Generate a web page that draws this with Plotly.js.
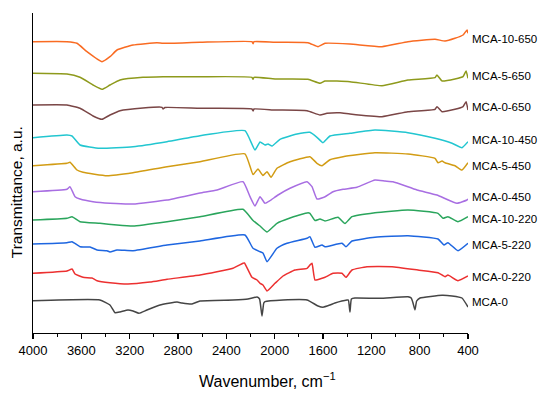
<!DOCTYPE html>
<html>
<head>
<meta charset="utf-8">
<script src="https://cdn.plot.ly/plotly-3.0.1.min.js"></script>
<style>html,body{margin:0;padding:0;background:#fff;}#chart{width:550px;height:393px;}</style>
</head>
<body>
<div id="chart"></div>
<script>
// Series names (top to bottom in the stack)
const names = ["MCA-10-650","MCA-5-650","MCA-0-650","MCA-10-450","MCA-5-450","MCA-0-450","MCA-10-220","MCA-5-220","MCA-0-220","MCA-0"];

// Wavenumbers (cm-1) and stacked transmittance values (arbitrary units, offset)
const wn_mca0 = [4000,3446,3363,3321,3280,3214,3172,3123,3057,2949,2808,2767,2684,2618,2345,2221,2146,2125,2105,2090,2080,1931,1732,1641,1600,1542,1501,1401,1390,1377,1365,1335,1128,897,870,855,839,825,797,615,532,450,400];
const y_mca0  = [32.3,33,28,20.3,21,23,22,19.7,23,28,31,30,29,32,33,34,36,34,17,30,31.3,33,33,27,25.7,28,30,33,33,21,34,35,34.7,36.3,35,30,23,32,35,37.7,37,35,26];

const wn_0_220 = [4000,3719,3677,3652,3586,3512,3470,3363,3214,3032,2891,2618,2345,2262,2250,2188,2146,2121,2097,2063,1997,1931,1832,1732,1708,1691,1666,1608,1583,1517,1443,1410,1360,1236,1029,814,648,590,566,483,400];
const y_0_220  = [59.7,62,64,59,55.7,55,52.3,50.3,49,51,53.7,58,64.7,69.7,70,55.7,53,49.7,48,42,49.7,57,63,64.7,68,69.7,53,54.7,55.7,59.7,59.7,55.7,63,66.3,66.3,63,60.3,56.3,58,52.3,57];

const wn_5_220 = [4000,3719,3677,3611,3528,3470,3388,3363,3305,3172,2891,2618,2246,2179,2121,2097,2063,1981,1898,1732,1708,1666,1608,1583,1443,1410,1360,1170,897,648,599,566,483,400];
const y_5_220  = [89,90.3,91.3,86.3,86,83,82.3,81,83,82.3,88,92,98,84.7,81.3,80,71.3,84.7,89.7,94.7,96.3,85.7,88,86.3,89.7,86.3,92,95.7,97.3,94,88,90.3,82.3,89.7];

const wn_10_220 = [4000,3719,3677,3611,3446,3305,3172,2891,2618,2262,2179,2121,2063,1981,1873,1724,1708,1666,1625,1583,1476,1418,1360,1170,897,648,607,566,483,400];
const y_10_220  = [113,114.7,116.3,111.3,109.7,108,107,111.3,116.3,123.7,112.5,107,101,109.7,115,120.3,119.7,112.5,114,112,115.7,109.5,116.3,120.3,123,119.7,114.7,116.3,111.3,116.3];

const wn_0_450 = [4000,3719,3694,3652,3611,3503,3363,3172,2891,2618,2477,2262,2204,2163,2121,2080,2039,1972,1873,1732,1691,1650,1583,1517,1434,1319,1170,1087,1021,822,657,491,408,400];
const y_0_450  = [141.3,143.7,146.3,136.3,134,131.3,129.7,129,133,140,143,151.3,136.3,127,136.3,129.7,132.3,138,144.7,151.3,146.3,134,136.3,141.3,143.7,145.7,153,152,151.3,143,138,129.7,133,134];

const wn_5_450 = [4000,3719,3694,3636,3586,3388,3172,2891,2618,2246,2179,2138,2097,2063,2030,1981,1873,1708,1650,1608,1542,1434,1170,897,673,648,615,590,508,450,400];
const y_5_450  = [167.3,169.7,170.7,163,160.7,157.3,160.3,166.3,171.3,179.2,158.5,164,157.5,161.3,155.7,164.7,171.3,176.3,169.7,167.3,173.3,176.3,180.3,179,174.7,170.3,172,170.3,167.3,163,170.3];

const wn_10_450 = [4000,3719,3677,3611,3446,3172,2891,2618,2246,2163,2121,2080,2055,2022,1956,1815,1708,1650,1600,1542,1377,1170,897,673,532,450,400];
const y_10_450  = [195.3,198,197,188,184.7,186.3,191.3,197.3,202.3,183,191,188,189,187,193.7,199,200.7,195.7,190.3,197,199.7,203,200.3,194.7,189.7,185.3,191.3];

const wn_0_650 = [4000,3719,3611,3503,3429,3363,3280,3090,2932,2924,2908,2618,2188,2179,2171,1997,1732,1625,1567,1459,1377,1112,897,673,657,615,508,441,416,400];
const y_0_650  = [228,228,224.7,217,213.7,218,222.3,225,225.7,224,225.5,224.7,224,222,224,223,222.3,218,219.7,220.3,219,216.3,221.3,223.7,226.3,221.3,223.7,226.3,231.3,223];

const wn_5_650 = [4000,3719,3611,3503,3429,3363,3280,3090,2924,2618,2188,2179,2171,1997,1724,1625,1583,1377,1112,897,673,657,615,508,441,416,400];
const y_5_650  = [259.7,259,255.7,248,243.7,248,253,255.7,256.3,256.3,255.7,253.7,255.7,254,253.7,249.7,252,251.3,247.3,253,255.3,258,252,254,256.3,262,254.7];

const wn_10_650 = [4000,3719,3636,3553,3429,3363,3305,3172,2974,2924,2618,2188,2179,2171,1997,1724,1641,1583,1377,1112,897,673,590,508,441,408,400];
const y_10_650  = [291.3,291.3,289.7,281.3,271.3,276.3,283,288,290.3,289.7,290.7,291.3,289.3,291.3,290.7,290.3,286.3,289.7,289,286.3,291.3,293.7,292,294.7,298,303,299.7];

const xTicks = [4000,3600,3200,2800,2400,2000,1600,1200,800,400];

const series = [
  [wn_10_650, y_10_650, "#f96b22"],
  [wn_5_650,  y_5_650,  "#8e9a1c"],
  [wn_0_650,  y_0_650,  "#7a4646"],
  [wn_10_450, y_10_450, "#22c6d0"],
  [wn_5_450,  y_5_450,  "#d29c14"],
  [wn_0_450,  y_0_450,  "#a86ee2"],
  [wn_10_220, y_10_220, "#2aa55c"],
  [wn_5_220,  y_5_220,  "#1e66e0"],
  [wn_0_220,  y_0_220,  "#ec3030"],
  [wn_mca0,   y_mca0,   "#454545"]
];

const traces = series.map((s, i) => ({
  x: s[0], y: s[1], name: names[i], type: "scatter", mode: "lines",
  line: {color: s[2], width: 1.5, shape: "spline", smoothing: 0.4},
  hoverinfo: "skip"
}));

const labelY = [293.7, 257.3, 226.3, 193, 167.3, 136.3, 114, 88, 56.3, 31.3];
const annotations = names.map((n, i) => ({
  text: n, xref: "paper", yref: "y", x: 1.004, y: labelY[i],
  xanchor: "left", yanchor: "middle", showarrow: false,
  font: {family: "Liberation Sans, Arial, sans-serif", size: 11.5, color: "#000"}
}));
annotations.push({
  text: "Wavenumber, cm<sup>−1</sup>", xref: "paper", yref: "paper",
  x: 0.538, y: -0.147, xanchor: "center", yanchor: "middle", showarrow: false,
  font: {family: "Liberation Sans, Arial, sans-serif", size: 16, color: "#000"}
});
annotations.push({
  text: "Transmittance, a.u.", xref: "paper", yref: "paper",
  x: -0.039, y: 0.44, xanchor: "center", yanchor: "middle", showarrow: false, textangle: -90,
  font: {family: "Liberation Sans, Arial, sans-serif", size: 15.5, color: "#000"}
});

const layout = {
  width: 550, height: 393,
  margin: {l: 33, r: 82, t: 13, b: 60, pad: 0},
  paper_bgcolor: "#fff", plot_bgcolor: "#fff",
  showlegend: false,
  xaxis: {
    range: [4000, 400], showgrid: false, zeroline: false,
    showline: true, linecolor: "#000", linewidth: 1.3,
    ticks: "outside", ticklen: 5, tickwidth: 1.2, tickcolor: "#000",
    tickvals: xTicks, ticktext: xTicks.map(String),
    tickfont: {family: "Liberation Sans, Arial, sans-serif", size: 13, color: "#000"},
    minor: {ticks: "outside", ticklen: 3, tickwidth: 1.2, tickcolor: "#000", dtick: 200, tick0: 400, showgrid: false}
  },
  yaxis: {
    range: [0, 320], showgrid: false, zeroline: false,
    showline: true, linecolor: "#000", linewidth: 1.3,
    ticks: "", showticklabels: false
  },
  annotations: annotations
};

Plotly.newPlot("chart", traces, layout, {staticPlot: true, displayModeBar: false});
</script>
</body>
</html>
